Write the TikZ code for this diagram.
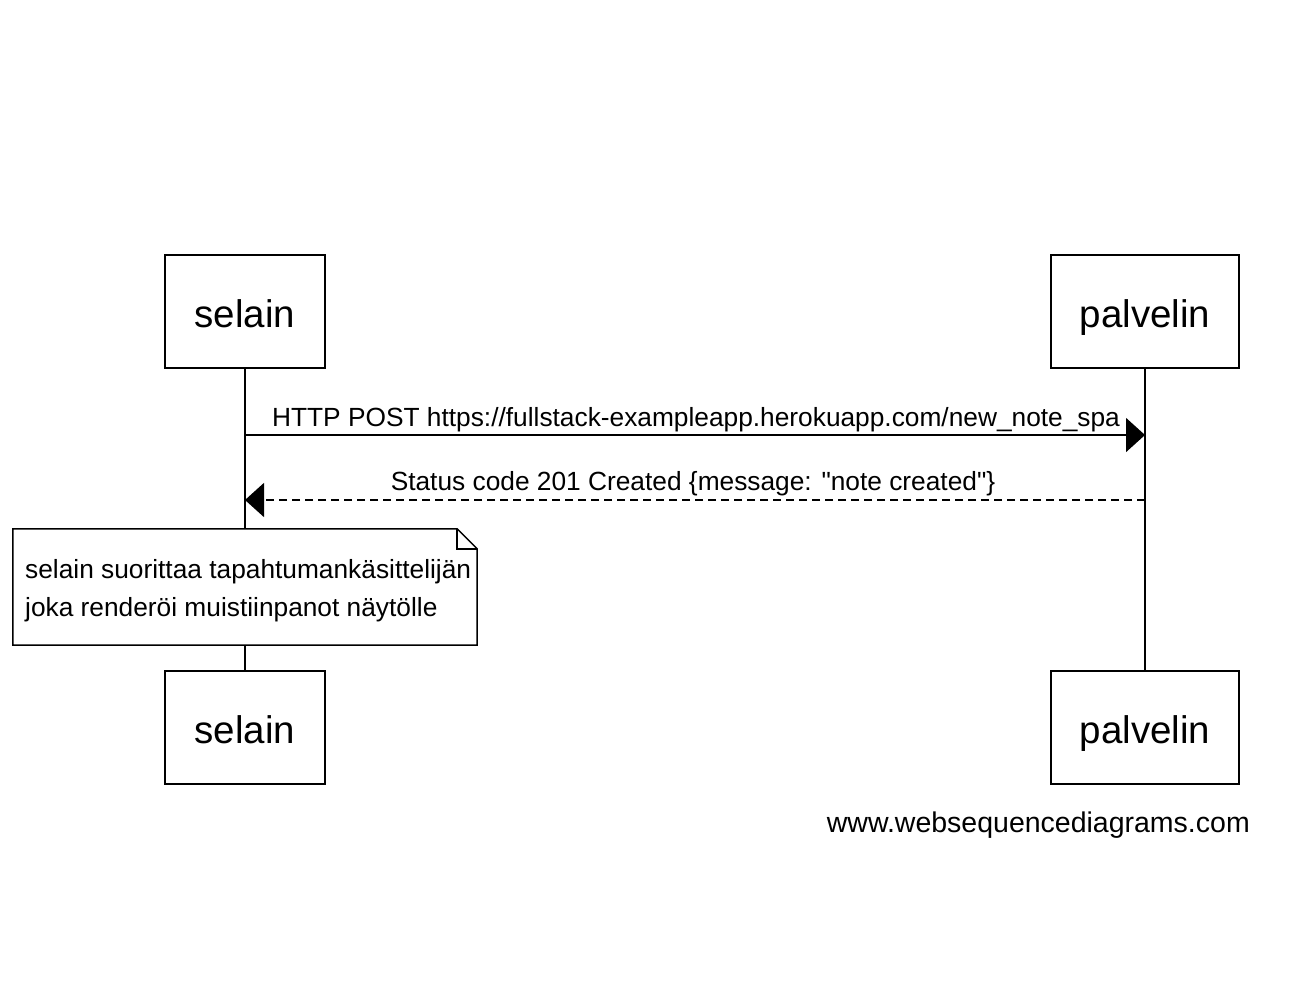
\documentclass[tikz,border=0pt]{standalone}
\usepackage{fontspec}
\setmainfont{Liberation Sans}
\usepackage{tikz}
\usetikzlibrary{arrows.meta}
\tikzstyle{actor} = [rectangle, minimum height=113pt, text height=31pt, text depth=0pt, draw=black, fill=white, line width=1.5pt, font=\fontsize{38.5}{44}\selectfont]
\tikzstyle{lifeline} = [line width=1.5pt]
\tikzstyle{msg} = [line width=1.5pt, -{Triangle[length=19pt,width=34pt]}]
\tikzstyle{reply} = [msg, dash pattern=on 8pt off 5pt]
\tikzstyle{label} = [anchor=base, inner sep=0pt, font=\fontsize{26.3}{30}\selectfont]

\begin{document}
\begin{tikzpicture}[x=1pt, y=-1pt, node distance=900pt]
				\useasboundingbox (0,0) rectangle (1316,982);
				\node (selain) [actor, minimum width=160pt] at (245,311.5) {selain};
				\node (palvelin) [actor, minimum width=188pt, right of=selain] {palvelin};
				\node (selainend) [actor, minimum width=160pt, below of=selain, node distance=416pt] {selain};
				\node (palvelinend) [actor, minimum width=188pt, below of=palvelin, node distance=416pt] {palvelin};
				\draw [lifeline] (selain) -- (selainend);
				\draw [lifeline] (palvelin) -- (palvelinend);
				\coordinate (reqs) at (selain |- 0,435);
				\coordinate (reqp) at (palvelin |- 0,435);
				\coordinate (ress) at (selain |- 0,500);
				\coordinate (resp) at (palvelin |- 0,500);
				\draw [msg] (reqs) -- (reqp);
				\node (reqlabel) [label] at (696,426) {HTTP POST https://fullstack-exampleapp.herokuapp.com/new\_note\_spa};
				\draw [reply] (resp) -- (ress);
				\node (reslabel) [label] at (693,490) {Status code 201 Created \{message: \textquotedbl note created\textquotedbl\}};
				% note
				\node (note) [minimum width=464pt, minimum height=116pt, fill=white, inner sep=0pt] at (245,587) {};
				\draw [line width=1.5pt] (note.north west) -- ([xshift=-20pt]note.north east) -- ([yshift=-20pt]note.north east) -- (note.south east) -- (note.south west) -- cycle;
				\draw [line width=1.5pt] ([xshift=-20pt]note.north east) -- ([xshift=-20pt,yshift=-20pt]note.north east) -- ([yshift=-20pt]note.north east);
				\node (notetext) [anchor=base west, inner sep=0pt, align=left, font=\fontsize{26.3}{38}\selectfont] at (25,616) {selain suorittaa tapahtumankäsittelijän\\joka renderöi muistiinpanot näytölle};
				\node (footer) [anchor=base east, inner sep=0pt, font=\fontsize{28.5}{32}\selectfont] at (1250,832) {www.websequencediagrams.com};
			\end{tikzpicture}
\end{document}
